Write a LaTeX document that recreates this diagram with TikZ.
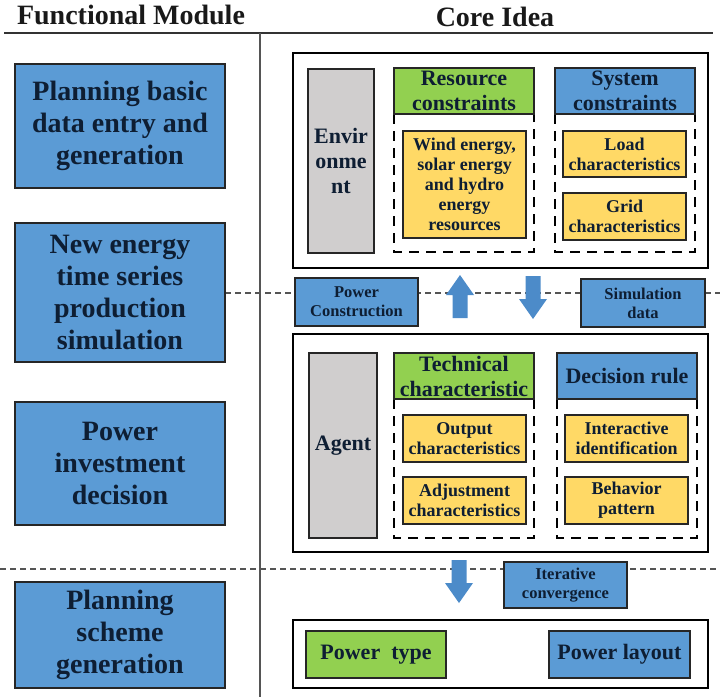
\documentclass[tikz,border=0pt]{standalone}
\usepackage{fontspec}
\setmainfont{Liberation Serif}
\definecolor{bxblue}{HTML}{5B9BD5}
\definecolor{bxgreen}{HTML}{92D050}
\definecolor{bxyellow}{HTML}{FFD966}
\definecolor{bxgray}{HTML}{D0CECE}
\definecolor{arrblue}{HTML}{4C8BC9}
\definecolor{txtnavy}{HTML}{0E1E33}
\definecolor{sepgray}{HTML}{555555}
\begin{document}
\begin{tikzpicture}[x=1pt,y=-1pt,
  basebox/.style={draw=black!85, line width=1.6pt, text=txtnavy, align=center, inner sep=0pt},
  leftbox/.style={basebox, fill=bxblue, minimum width=210pt, font=\fontsize{28}{32}\selectfont\bfseries},
  outerbox/.style={draw=black, line width=2.2pt},
  headgreen/.style={basebox, fill=bxgreen, minimum width=140pt, minimum height=46pt, font=\fontsize{22}{25}\selectfont\bfseries},
  headblue/.style={basebox, fill=bxblue, minimum width=140pt, minimum height=46pt, font=\fontsize{22}{25}\selectfont\bfseries},
  graybox/.style={basebox, fill=bxgray, font=\fontsize{22}{25}\selectfont\bfseries},
  yelbox/.style={basebox, fill=bxyellow, minimum width=123pt, minimum height=47pt, font=\fontsize{18}{20}\selectfont\bfseries},
  smallblue/.style={basebox, fill=bxblue, minimum width=123pt, minimum height=47pt, font=\fontsize{16.5}{19}\selectfont\bfseries},
  dashbox/.style={draw=black, line width=1.8pt, dash pattern=on 10pt off 7pt},
  sepline/.style={draw=sepgray, line width=1.3pt, dash pattern=on 6pt off 4pt},
  titletext/.style={font=\fontsize{28}{30}\selectfont\bfseries, text=black!90, inner sep=0pt, anchor=base},
  blkarrow/.pic={\fill[arrblue] (-7.5,0) -- (-7.5,-23) -- (-14,-23) -- (0,-43) -- (14,-23) -- (7.5,-23) -- (7.5,0) -- cycle;}
]
\useasboundingbox (0,0) rectangle (720,697);

% separator dashed lines (behind)
\coordinate (sepAL) at (225,293);
\coordinate (sepAR) at (720,293);
\coordinate (sepBL) at (0,569);
\coordinate (sepBR) at (720,569);
\draw[sepline] (sepAL) -- (sepAR);
\draw[sepline] (sepBL) -- (sepBR);

% titles and frame lines
\node[titletext] (tfm) at (131,24) {Functional Module};
\node[titletext] (tci) at (495,26) {Core Idea};
\coordinate (hlL) at (4,33);
\coordinate (hlR) at (713,33);
\coordinate (vlT) at (260,33);
\coordinate (vlB) at (260,697);
\draw[black!80, line width=1.6pt] (hlL) -- (hlR);
\draw[sepgray, line width=1.6pt] (vlT) -- (vlB);

% left functional modules
\node[leftbox, minimum height=124pt] (L1) at (120,126) {Planning basic\\data entry and\\generation};
\node[leftbox, minimum height=139pt] (L2) at (120,292.5) {New energy\\time series\\production\\simulation};
\node[leftbox, minimum height=123pt] (L3) at (120,463.5) {Power\\investment\\decision};
\node[leftbox, minimum height=106pt] (L4) at (120,635) {Planning\\scheme\\generation};

% environment block
\draw[outerbox, fill=white] (293,53) rectangle (708,268);
\node[graybox, minimum width=66pt, minimum height=184pt] (env) at (341,161) {Envir\\onme\\nt};
\draw[dashbox] (394,114) -- (394,252) -- (534,252) -- (534,114);
\draw[dashbox] (555,114) -- (555,252) -- (695,252) -- (695,114);
\node[headgreen] (res) at (464,91) {Resource\\constraints};
\node[headblue] (sys) at (625,91) {System\\constraints};
\node[yelbox, minimum height=107pt] (wind) at (464.5,184.5) {Wind energy,\\solar energy\\and hydro\\energy\\resources};
\node[yelbox, minimum height=46pt] (load) at (624.5,154) {Load\\characteristics};
\node[yelbox] (grid) at (624.5,216.5) {Grid\\characteristics};

% middle
\node[smallblue, minimum height=48pt] (pc) at (356.5,302) {Power\\Construction};
\node[smallblue, minimum width=124pt, minimum height=48pt] (sd) at (643,303) {Simulation\\data};
\pic at (460,318) {blkarrow};
\pic[rotate=180] at (533,276) {blkarrow};

% agent block
\draw[outerbox, fill=white] (293,334) rectangle (708,552);
\node[graybox, minimum width=68pt, minimum height=185pt] (agent) at (343,445.5) {Agent};
\draw[dashbox] (394,399) -- (394,538) -- (534,538) -- (534,399);
\draw[dashbox] (557,399) -- (557,538) -- (697,538) -- (697,399);
\node[headgreen] (tech) at (464,376) {Technical\\characteristic};
\node[headblue] (dec) at (627,376) {Decision rule};
\node[yelbox] (out) at (464.5,438.5) {Output\\characteristics};
\node[yelbox] (adj) at (464.5,500.5) {Adjustment\\characteristics};
\node[yelbox] (inter) at (626.5,438.5) {Interactive\\identification};
\node[yelbox] (beh) at (626.5,500.5) {Behavior\\pattern};

% bottom
\pic[rotate=180] at (459,560) {blkarrow};
\node[smallblue, minimum height=46pt] (iter) at (565.5,585) {Iterative\\convergence};
\draw[outerbox, fill=white] (293,620) rectangle (708,688);
\node[headgreen, minimum height=47pt] (ptype) at (376,654.5) {Power\ \ type};
\node[headblue, minimum width=141pt, minimum height=47pt] (play) at (619.5,654.5) {Power layout};
\end{tikzpicture}
\end{document}
